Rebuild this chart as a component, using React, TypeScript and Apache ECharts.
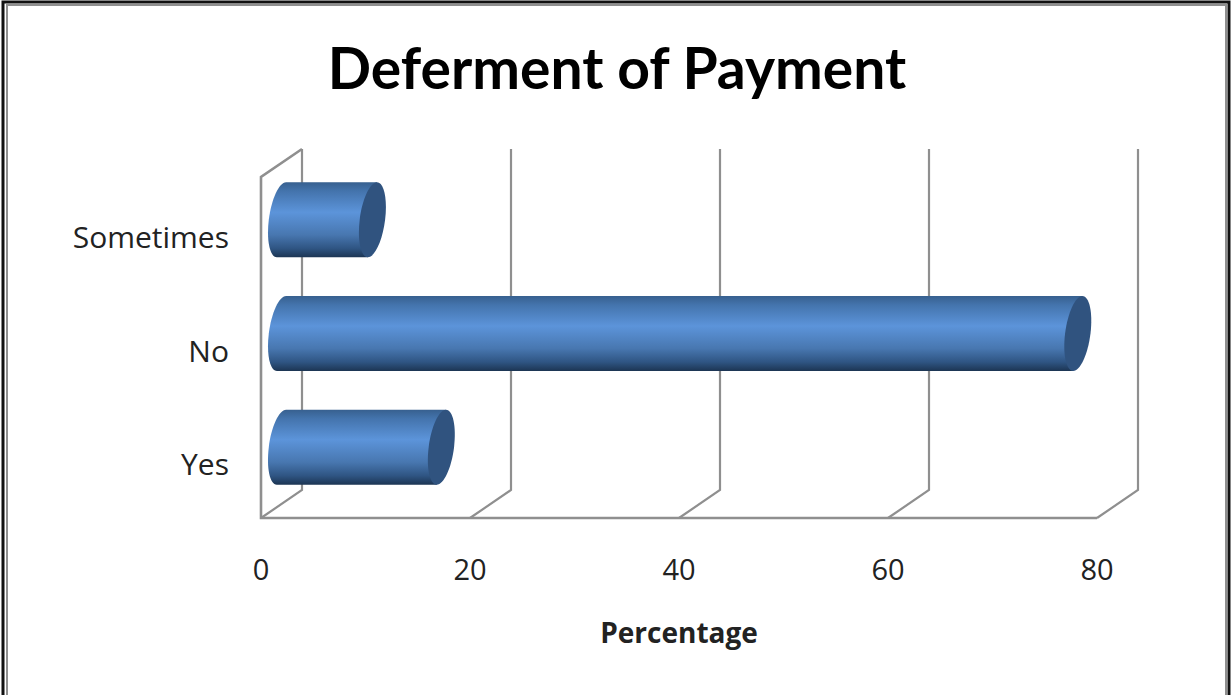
import React, { useEffect, useRef } from "react";
import * as echarts from "echarts";

const categories = ["Yes", "No", "Sometimes"];
const percentages = [15.3, 76.2, 8.7];
const xTicks = [0, 20, 40, 60, 80];
const titleText = "Deferment of Payment";
const xName = "Percentage";

const DEPTH_X = 41;
const DEPTH_Y = -28;
const WALL = "#8f8f8f";
const KAPPA = 0.5523;

// affine image of a circle: x = cx + p cos t + k sin t, y = cy - h sin t
function capPoint(cx: number, cy: number, p: number, k: number, h: number) {
  return (c: number, s: number) => `${(cx + p * c + k * s).toFixed(2)} ${(cy - h * s).toFixed(2)}`;
}

function capPath(cx: number, cy: number, p: number, k: number, h: number) {
  const pt = capPoint(cx, cy, p, k, h);
  const K = KAPPA;
  return (
    `M${pt(1, 0)}` +
    `C${pt(1, K)} ${pt(K, 1)} ${pt(0, 1)}` +
    `C${pt(-K, 1)} ${pt(-1, K)} ${pt(-1, 0)}` +
    `C${pt(-1, -K)} ${pt(-K, -1)} ${pt(0, -1)}` +
    `C${pt(K, -1)} ${pt(1, -K)} ${pt(1, 0)}Z`
  );
}

function bodyPath(x0: number, x1: number, cy: number, p: number, k: number, h: number) {
  const a = capPoint(x0, cy, p, k, h);
  const b = capPoint(x1, cy, p, k, h);
  const K = KAPPA;
  return (
    `M${b(0, 1)}L${b(0, -1)}L${a(0, -1)}` +
    `C${a(-K, -1)} ${a(-1, -K)} ${a(-1, 0)}` +
    `C${a(-1, K)} ${a(-K, 1)} ${a(0, 1)}Z`
  );
}

function renderWalls(params: any, api: any) {
  const tick = api.value(0);
  const maxCat = categories.length - 1;
  const band = api.size([0, 1])[1];
  const bottom = api.coord([tick, 0])[1] + band / 2;
  const top = api.coord([tick, maxCat])[1] - band / 2;
  const x = api.coord([tick, 0])[0];
  const style = { stroke: WALL, lineWidth: 2.2, fill: "none" };
  const children: any[] = [
    {
      type: "polyline",
      shape: {
        points: [
          [x, bottom],
          [x + DEPTH_X, bottom + DEPTH_Y],
          [x + DEPTH_X, top + DEPTH_Y],
        ],
      },
      style,
    },
  ];
  if (tick === xTicks[0]) {
    const xEnd = api.coord([xTicks[xTicks.length - 1], 0])[0];
    children.push({
      type: "polyline",
      shape: {
        points: [
          [x + DEPTH_X, top + DEPTH_Y],
          [x, top],
          [x, bottom],
          [xEnd, bottom],
        ],
      },
      style: { ...style, lineWidth: 2.6 },
    });
  }
  return { type: "group", children };
}

function renderCylinder(params: any, api: any) {
  const value = api.value(0);
  const cat = api.value(1);
  const start = api.coord([0, cat]);
  const end = api.coord([value, cat]);
  const band = api.size([0, 1])[1];
  const h = band * 0.33;
  const cy = start[1] + DEPTH_Y / 2;
  const x0 = start[0] + DEPTH_X / 2;
  const x1 = end[0] + DEPTH_X / 2;
  const p = 12.7;
  const k = 4.6;
  const grad = {
    type: "linear",
    x: 0,
    y: 0,
    x2: 0,
    y2: 1,
    colorStops: [
      { offset: 0, color: "#37608f" },
      { offset: 0.12, color: "#4474ad" },
      { offset: 0.4, color: "#5c94da" },
      { offset: 0.7, color: "#4877b0" },
      { offset: 0.88, color: "#2f5583" },
      { offset: 1, color: "#1c3553" },
    ],
  };
  return {
    type: "group",
    children: [
      { type: "path", shape: { pathData: bodyPath(x0, x1, cy, p, k, h) }, style: { fill: grad } },
      { type: "path", shape: { pathData: capPath(x1, cy, p, k, h) }, style: { fill: "#30537f" } },
    ],
  };
}

export default function App() {
  const ref = useRef<HTMLDivElement>(null);
  useEffect(() => {
    document.body.style.margin = "0";
    document.body.style.background = "#fff";
    const chart = echarts.init(ref.current!, null, { renderer: "svg" });
    const font = "Open Sans";
    chart.setOption({
      animation: false,
      backgroundColor: "#ffffff",
      title: {
        text: titleText,
        left: 612,
        top: 33,
        textAlign: "center",
        textStyle: { fontFamily: "Lato", fontWeight: "bold", fontSize: 57, color: "#000000" },
      },
      grid: { left: 261, right: 134, top: 177, bottom: 177 },
      xAxis: {
        type: "value",
        min: 0,
        max: 80,
        interval: 20,
        axisLine: { show: false },
        axisTick: { show: false },
        splitLine: { show: false },
        axisLabel: { fontFamily: font, fontSize: 29, color: "#222222", margin: 36 },
        name: xName,
        nameLocation: "middle",
        nameGap: 100,
        nameTextStyle: { fontFamily: font, fontWeight: "bold", fontSize: 28, color: "#222222" },
      },
      yAxis: {
        type: "category",
        data: categories,
        axisLine: { show: false },
        axisTick: { show: false },
        splitLine: { show: false },
        axisLabel: { fontFamily: font, fontSize: 30, color: "#222222", margin: 32, verticalAlign: "top", lineHeight: 5 },
      },
      series: [
        {
          type: "custom",
          name: "walls",
          z: 1,
          clip: false,
          silent: true,
          renderItem: renderWalls,
          encode: { x: 0 },
          data: xTicks.map((t) => [t, 0]),
        },
        {
          type: "custom",
          name: "Percentage",
          z: 2,
          clip: false,
          renderItem: renderCylinder,
          encode: { x: 0, y: 1 },
          data: percentages.map((v, i) => [v, i]),
        },
      ],
      graphic: [
        { type: "rect", shape: { x: 3, y: 2, width: 1226, height: 700 }, style: { fill: "none", stroke: "#111111", lineWidth: 3 }, z: 10 },
        { type: "rect", shape: { x: 7, y: 5, width: 1219, height: 700 }, style: { fill: "none", stroke: "#8f8f8f", lineWidth: 2 }, z: 10 },
      ],
    });
    return () => chart.dispose();
  }, []);
  return <div ref={ref} style={{ width: 1231, height: 695 }} />;
}
